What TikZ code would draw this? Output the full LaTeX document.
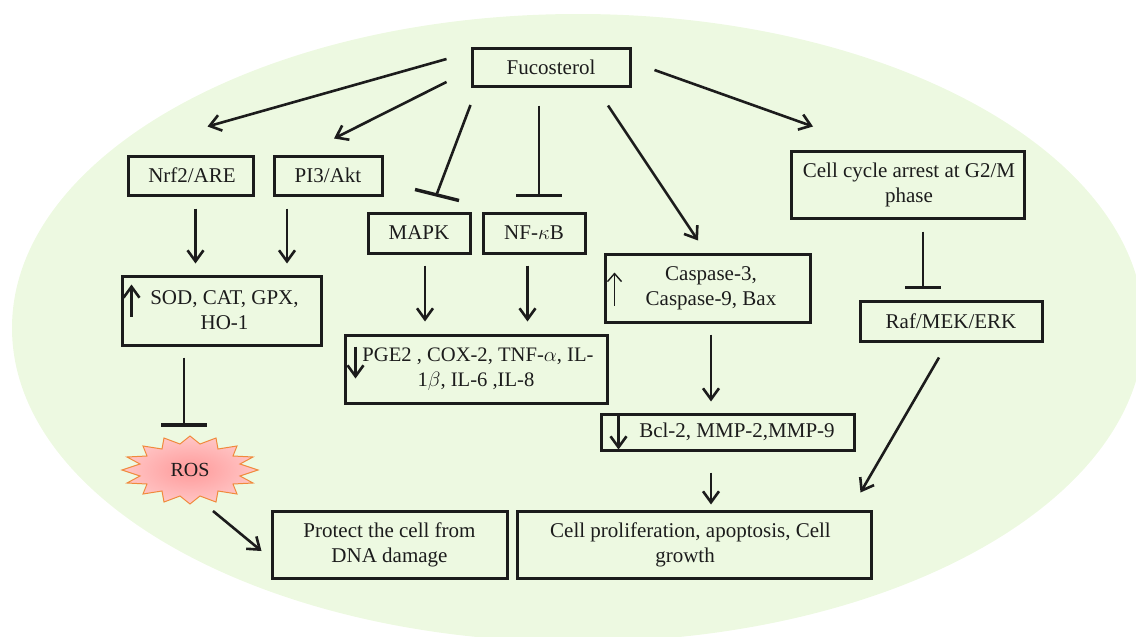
\documentclass[tikz,border=0pt]{standalone}
\usepackage{fontspec}
\setmainfont{Liberation Serif}
\usepackage{amsmath}
\usetikzlibrary{calc,arrows.meta}
\definecolor{cellgreen}{HTML}{EDF9E1}
\definecolor{inkdark}{HTML}{1C1C1C}
\definecolor{rosedge}{HTML}{F08A3C}
\definecolor{roscore}{HTML}{FF9A9A}
\definecolor{rosrim}{HTML}{FFC6C6}
\begin{document}
\begin{tikzpicture}[
            x=1pt,
            y=-1pt,
            box/.style={draw=inkdark, line width=3pt, text=inkdark, inner sep=0pt, align=center, font=\fontsize{21}{25}\selectfont},
            arr/.style={draw=inkdark, line width=2.6pt, -{Straight Barb[length=11pt,width=16pt,line width=2.6pt]}},
            thinarr/.style={draw=inkdark, line width=1.4pt, -{Straight Barb[length=8pt,width=14pt,line width=1.4pt]}},
            bar/.style={draw=inkdark, line width=2.6pt},
            blockbar/.style={draw=inkdark, line width=3.4pt},
        ]
        \useasboundingbox (0,0) rectangle (1136,637);
        \fill[cellgreen] (578,328) ellipse [x radius=566, y radius=314];
        % top row
        \node[box, minimum width=158pt, minimum height=38pt] (fuco) at (551,67) {Fucosterol};
        \node[box, minimum width=125pt, minimum height=39pt] (nrf) at (190.5,175.5) {\hspace*{3pt}Nrf2/ARE};
        \node[box, minimum width=108pt, minimum height=39pt] (pi3) at (328,175.5) {PI3/Akt};
        \node[box, minimum width=102pt, minimum height=40pt] (mapk) at (419,233) {MAPK};
        \node[box, minimum width=102pt, minimum height=40pt] (nfkb) at (534,233) {NF-$\kappa$B};
        \node[box, minimum width=233pt, minimum height=67pt] (cycle) at (907.5,184.5) {\hspace*{3pt}Cell cycle arrest at G2/M\\\hspace*{3pt}phase};
        % middle row
        \node[box, minimum width=199pt, minimum height=69pt] (sod) at (221.5,310.5) {\hspace*{6pt}SOD, CAT, GPX,\\\hspace*{6pt}HO-1};
        \node[box, minimum width=262pt, minimum height=68pt, font=\fontsize{20.6}{25}\selectfont] (pge) at (476,369) {\hspace*{4pt}PGE2 , COX-2, TNF-$\alpha$, IL-\\1$\beta$, IL-6 ,IL-8};
        \node[box, minimum width=205pt, minimum height=68pt] (casp) at (707.5,288) {\hspace*{7pt}Caspase-3,\\\hspace*{7pt}Caspase-9, Bax};
        \node[box, minimum width=253pt, minimum height=36pt] (bcl) at (727.5,432) {\hspace*{19pt}Bcl-2, MMP-2,MMP-9};
        \node[box, minimum width=182pt, minimum height=40pt] (raf) at (951,321) {Raf/MEK/ERK};
        % bottom row
        \node[box, minimum width=235pt, minimum height=67pt] (prot) at (389.5,544.5) {Protect the cell from\\DNA damage};
        \node[box, minimum width=354pt, minimum height=67pt] (prolif) at (694,544.5) {Cell proliferation, apoptosis, Cell\hspace*{7pt}\\growth\hspace*{18pt}};
        % ROS burst
        \begin{scope}[shift={(190,470)}]
            \shadedraw[draw=rosedge, line width=1pt, shading=radial, inner color=roscore, outer color=rosrim]
                (68,0) -- (50,-6) -- (63,-13) -- (43,-14) -- (47,-24) -- (28,-21) -- (26,-32) -- (10,-26)
                -- (0,-34) -- (-10,-26) -- (-26,-32) -- (-28,-21) -- (-47,-24) -- (-43,-14) -- (-63,-13) -- (-50,-6)
                -- (-68,0) -- (-50,6) -- (-63,13) -- (-43,14) -- (-47,24) -- (-28,21) -- (-26,32) -- (-10,26)
                -- (0,34) -- (10,26) -- (26,32) -- (28,21) -- (47,24) -- (43,14) -- (63,13) -- (50,6) -- cycle;
            \node[text=inkdark, inner sep=0pt, font=\fontsize{20}{22}\selectfont] (ros) at (0,0) {ROS};
        \end{scope}
        % from fucosterol
        \draw[arr] ([shift={(-24,-8)}]fuco.west) -- ([shift={(-47,-28)}]nrf.north east);
        \draw[arr] ([shift={(-24,15)}]fuco.west) -- ([shift={(6,-16)}]pi3.north);
        \draw[bar] ([shift={(0,38)}]fuco.west) -- ([shift={(18,-18)}]mapk.north);
        \draw[blockbar] ([shift={(-4,-22)}]mapk.north) -- ([shift={(40,-11)}]mapk.north);
        \draw[bar] ([shift={(-12,18)}]fuco.south) -- ([shift={(5,-16)}]nfkb.north);
        \draw[blockbar] ([shift={(-18,-16)}]nfkb.north) -- ([shift={(28,-16)}]nfkb.north);
        \draw[arr] ([shift={(57,18)}]fuco.south) -- ([shift={(-9.5,-12)}]casp.north);
        \draw[arr] ([shift={(23,3)}]fuco.east) -- ([shift={(-94.5,-23)}]cycle.north);
        % down the boxes
        \draw[arr] ([shift={(5,12)}]nrf.south) -- ([shift={(-26,-11)}]sod.north);
        \draw[arr] ([shift={(-41,12)}]pi3.south) -- ([shift={(65.5,-11)}]sod.north);
        \draw[arr] ([shift={(6,11)}]mapk.south) -- ([shift={(-51,-12)}]pge.north);
        \draw[arr] ([shift={(-6.5,11)}]nfkb.south) -- ([shift={(51.5,-12)}]pge.north);
        \draw[arr] ([shift={(3.5,11)}]casp.south) -- ([shift={(-16.5,-11)}]bcl.north);
        \draw[arr] ([shift={(-16.5,21)}]bcl.south) -- ([shift={(17,-5)}]prolif.north);
        \draw[bar] ([shift={(15.5,12)}]cycle.south) -- ([shift={(-28,-12)}]raf.north);
        \draw[blockbar] ([shift={(-46,-12)}]raf.north) -- ([shift={(-10,-12)}]raf.north);
        \draw[arr] ([shift={(-12,15)}]raf.south) -- ([shift={(-12,-17)}]prolif.north east);
        % ROS
        \draw[bar] ([shift={(-37.5,11)}]sod.south) -- ([shift={(-6,-45)}]ros.center);
        \draw[blockbar] ([shift={(-29,-45)}]ros.center) -- ([shift={(17,-45)}]ros.center);
        \draw[arr] ([shift={(23,41)}]ros.center) -- ([shift={(-9,6.5)}]prot.west);
        % small marks inside boxes
        \coordinate (sodmark) at ([shift={(11,42)}]sod.north west);
        \draw[arr] (sodmark) -- ++(0,-32);
        \coordinate (pgemark) at ([shift={(12,13)}]pge.north west);
        \draw[arr] (pgemark) -- ++(0,32);
        \coordinate (caspmark) at ([shift={(11,53)}]casp.north west);
        \draw[thinarr] (caspmark) -- ++(0,-33);
        \coordinate (bclmark) at ([shift={(19,3)}]bcl.north west);
        \draw[arr] (bclmark) -- ++(0,34);
\end{tikzpicture}
\end{document}
